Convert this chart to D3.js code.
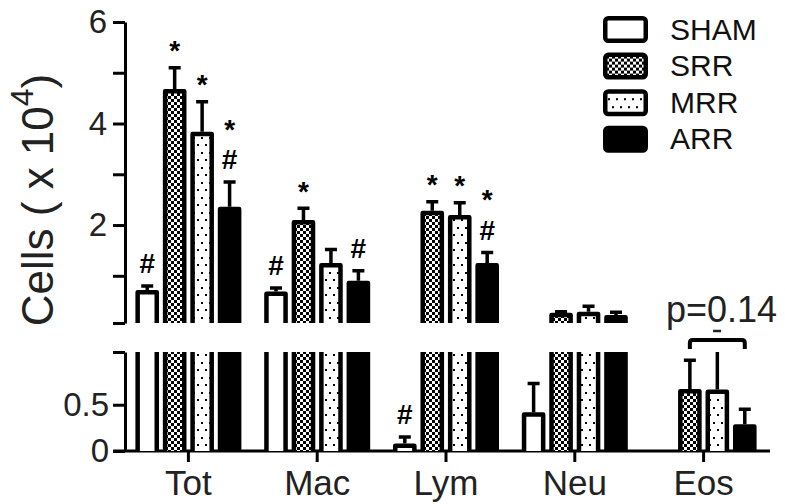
<!DOCTYPE html>
<html>
<head>
<meta charset="utf-8">
<script src="https://cdn.jsdelivr.net/npm/d3@7"></script>
<style>
  body { margin: 0; background: #fff; }
  text { font-family: "Liberation Sans", Arial, sans-serif; }
</style>
</head>
<body>
<div id="chart"></div>
<script>
const groups = ["Tot", "Mac", "Lym", "Neu", "Eos"];
const series = ["SHAM", "SRR", "MRR", "ARR"];

// bar tops read on the upper panel (null = bar ends in the lower panel)
const upperMean = [
  [0.72, 0.69, null, null, null],
  [4.68, 2.10, 2.28, 0.27, null],
  [3.84, 1.25, 2.20, 0.29, null],
  [2.36, 0.90, 1.25, 0.23, null]
];
const upperErr = [
  [0.80, 0.76, null, null, null],
  [5.10, 2.33, 2.46, 0.29, null],
  [4.43, 1.52, 2.44, 0.40, null],
  [2.85, 1.10, 1.46, 0.28, null]
];
// bars that stay in the lower panel
const lowerMean = [
  [null, null, 0.08, 0.42, null],
  [null, null, null, null, 0.67],
  [null, null, null, null, 0.665],
  [null, null, null, null, 0.29]
];
const lowerErr = [
  [null, null, 0.15, 0.73, null],
  [null, null, null, null, 0.98],
  [null, null, null, null, 1.20],
  [null, null, null, null, 0.45]
];
const marks = [
  ["#", "#", "#", "", ""],
  ["*", "*", "*", "", ""],
  ["*", "", "*", "", ""],
  ["*#", "#", "*#", "", ""]
];
const upperTicks = [0.07, 1, 2, 3, 4, 5, 6];
const upperLabels = [2, 4, 6];
const lowerTicks = [0, 0.5, 1.07];
const lowerLabels = [0, 0.5];
const pLabel = ["p=", "0", ".14"];

const svg = d3.select("#chart").append("svg")
  .attr("width", 785)
  .attr("height", 504);

const defs = svg.append("defs");
const checker = defs.append("pattern")
  .attr("id", "checker").attr("patternUnits", "userSpaceOnUse")
  .attr("width", 6).attr("height", 6);
checker.append("rect").attr("width", 6).attr("height", 6).attr("fill", "#fff");
checker.append("rect").attr("width", 3).attr("height", 3).attr("fill", "#000");
checker.append("rect").attr("x", 3).attr("y", 3).attr("width", 3).attr("height", 3).attr("fill", "#000");

const dots = defs.append("pattern")
  .attr("id", "dots").attr("patternUnits", "userSpaceOnUse")
  .attr("width", 8).attr("height", 15);
dots.append("rect").attr("width", 8).attr("height", 15).attr("fill", "#fff");
dots.append("rect").attr("x", 1).attr("y", 2).attr("width", 2).attr("height", 2).attr("fill", "#000");
dots.append("rect").attr("x", 5).attr("y", 9).attr("width", 2).attr("height", 2).attr("fill", "#000");

defs.append("clipPath").attr("id", "lowclip")
  .append("rect").attr("x", 100).attr("y", 352).attr("width", 700).attr("height", 120);

const fills = ["#fff", "url(#checker)", "url(#dots)", "#000"];

const x = d3.scaleBand().domain(groups).range([124, 768]);
const xs = d3.scaleBand().domain(series).range([-53, 53]).paddingInner(0.14);
const yU = d3.scaleLinear().domain([0.07, 6]).range([323, 22]);
const yL = d3.scaleLinear().domain([0, 1.07]).range([451, 352]);

const axisX = 125;

// y axes
const gU = svg.append("g")
  .attr("transform", `translate(${axisX},0)`)
  .call(d3.axisLeft(yU).tickValues(upperTicks).tickSize(12).tickSizeOuter(0).tickPadding(6)
    .tickFormat(d => upperLabels.includes(d) ? d : ""));
const gL = svg.append("g")
  .attr("transform", `translate(${axisX},0)`)
  .call(d3.axisLeft(yL).tickValues(lowerTicks).tickSize(12).tickSizeOuter(0).tickPadding(4)
    .tickFormat(d => lowerLabels.includes(d) ? d : ""));
[gU, gL].forEach(g => {
  g.select(".domain").attr("stroke-width", 3);
  g.selectAll(".tick line").attr("stroke-width", 3);
  g.selectAll(".tick text").attr("font-size", 33).attr("fill", "#222")
    .attr("font-family", "Liberation Sans, Arial, sans-serif");
});

// x axis
const gX = svg.append("g")
  .attr("transform", `translate(0,${yL(0)})`)
  .call(d3.axisBottom(x).tickSize(11).tickSizeOuter(0).tickPadding(8));
gX.select(".domain").attr("d", `M${axisX - 12},0H770`).attr("stroke-width", 3);
gX.selectAll(".tick line").attr("stroke-width", 3);
gX.selectAll(".tick text").attr("font-size", 35).attr("fill", "#222")
  .attr("font-family", "Liberation Sans, Arial, sans-serif");

// bars
const barG = svg.append("g");
const lowG = svg.append("g").attr("clip-path", "url(#lowclip)");
const sw = 4.5;

function drawBar(parent, s, left, w, top, bottom, closedTop) {
  parent.append("rect")
    .attr("x", left + sw / 2).attr("y", top + (closedTop ? sw / 2 : 0))
    .attr("width", w - sw).attr("height", bottom - top - (closedTop ? sw / 2 : 0))
    .attr("fill", fills[s]);
  const l = left + sw / 2, r = left + w - sw / 2;
  const d = closedTop
    ? `M${l},${bottom}V${top + sw / 2}H${r}V${bottom}`
    : `M${l},${top}V${bottom}M${r},${top}V${bottom}`;
  parent.append("path").attr("d", d)
    .attr("fill", "none").attr("stroke", "#000").attr("stroke-width", sw)
    .attr("stroke-linejoin", "round");
}

function drawErr(parent, cx, yTop, yEnd) {
  if (yEnd >= yTop - 1) return;
  parent.append("path")
    .attr("d", `M${cx},${yTop}V${yEnd}M${cx - 6},${yEnd}H${cx + 6}`)
    .attr("fill", "none").attr("stroke", "#000").attr("stroke-width", 3.5);
}

// significance marks, stacked with "#" at the bottom
function drawMark(str, cx, errY) {
  const fs = 28;
  const chars = str.split("");
  let yc = errY - 23;
  for (let i = chars.length - 1; i >= 0; i--) {
    const c = chars[i];
    const base = c === "*" ? yc + 0.56 * fs : yc + 0.36 * fs;
    svg.append("text").attr("x", cx).attr("y", base)
      .attr("text-anchor", "middle").attr("font-size", fs).attr("font-weight", "bold")
      .text(c);
    yc -= 36;
  }
}

series.forEach((sName, s) => {
  groups.forEach((gName, g) => {
    const left = x(gName) + x.bandwidth() / 2 + xs(sName);
    const w = xs.bandwidth();
    const cx = left + w / 2;
    const vU = upperMean[s][g];
    if (vU != null) {
      drawBar(barG, s, left, w, yU(vU), yU.range()[0], true);
      drawBar(lowG, s, left, w, yL.range()[1], yL(0), false);
      drawErr(barG, cx, yU(vU), yU(upperErr[s][g]));
      if (marks[s][g]) drawMark(marks[s][g], cx, yU(upperErr[s][g]));
    } else if (lowerMean[s][g] != null) {
      const v = lowerMean[s][g];
      drawBar(lowG, s, left, w, yL(v), yL(0), true);
      drawErr(lowG, cx, yL(v), yL(lowerErr[s][g]));
      if (marks[s][g]) drawMark(marks[s][g], cx, yL(lowerErr[s][g]));
    }
  });
});

// axis label
const ylab = svg.append("text")
  .attr("transform", `translate(53,200) rotate(-90)`)
  .attr("text-anchor", "middle")
  .attr("font-size", 44).attr("fill", "#222");
ylab.append("tspan").text("Cells ( x 10");
ylab.append("tspan").attr("font-size", 32).attr("dy", -20).text("4");
ylab.append("tspan").attr("dy", 20).text(")");

// legend
const legend = svg.append("g").attr("transform", "translate(603,16)");
series.forEach((sName, i) => {
  const row = legend.append("g").attr("transform", `translate(0,${i * 36.6})`);
  row.append("rect")
    .attr("x", sw / 2).attr("y", sw / 2).attr("width", 45 - sw).attr("height", 27 - sw)
    .attr("rx", 3).attr("fill", fills[i]).attr("stroke", "#000").attr("stroke-width", sw);
  row.append("text").attr("x", 67).attr("y", 23.5)
    .attr("font-size", 30).attr("fill", "#111").text(sName);
});

// Eos comparison bracket
const c1 = x("Eos") + x.bandwidth() / 2 + xs("SRR") + xs.bandwidth() / 2;
const c2 = x("Eos") + x.bandwidth() / 2 + xs("ARR") + xs.bandwidth() / 2;
svg.append("path")
  .attr("d", `M${c1},349V343Q${c1},340 ${c1 + 3},340H${c2 - 3}Q${c2},340 ${c2},343V349`)
  .attr("fill", "none").attr("stroke", "#000").attr("stroke-width", 4);

svg.append("text").attr("x", 666).attr("y", 322)
  .attr("font-size", 36).attr("fill", "#222").text(pLabel.join(""));
const probe = svg.append("text").attr("font-size", 36).text(pLabel[0]);
const w0 = probe.node().getComputedTextLength();
probe.text(pLabel[1]);
const w1 = probe.node().getComputedTextLength();
probe.remove();
svg.append("line")
  .attr("x1", 666 + w0 + w1 * 0.3).attr("x2", 666 + w0 + w1 * 0.7)
  .attr("y1", 331).attr("y2", 331)
  .attr("stroke", "#222").attr("stroke-width", 2.5);
</script>
</body>
</html>
